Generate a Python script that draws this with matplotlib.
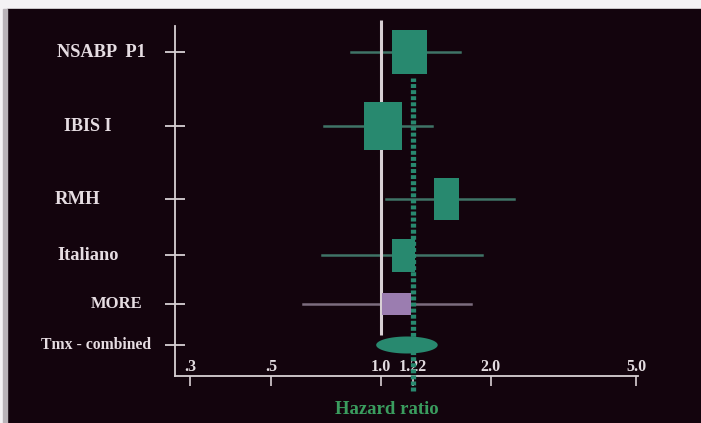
import matplotlib.pyplot as plt
import numpy as np
from matplotlib.patches import Rectangle

# forest plot data: hazard ratio with 95% CI per trial
studies = ['NSABP  P1', 'IBIS I', 'RMH', 'Italiano', 'MORE', 'Tmx - combined']
hr = [1.20, 1.01, 1.51, 1.15, 1.10]
ci_lo = [0.83, 0.70, 1.03, 0.69, 0.61]
ci_hi = [1.65, 1.38, 2.31, 1.89, 1.76]
pooled_hr = 1.22
pooled_lo = 0.97
pooled_hi = 1.43
xtick_vals = [0.3, 0.5, 1.0, 1.22, 2.0, 5.0]
xtick_text = ['.3', '.5', '1.0', '1.22', '2.0', '5.0']

# layout (row heights, box sizes, label positions)
row_y = [6.48, 5.0, 3.54, 2.42, 1.44, 0.62]
box_w = [0.096, 0.104, 0.068, 0.063, 0.079]   # log10 units
box_h = [0.88, 0.96, 0.84, 0.66, 0.44]
label_px = [57, 64, 55, 57, 91, 41]
label_size = [13.2, 13, 13.5, 13.2, 12, 11.3]

BG = '#13040d'
TEAL = '#28896f'
LINE = '#d8d0d4'
serif = ['Liberation Serif', 'DejaVu Serif']

fig = plt.figure(figsize=(7.01, 4.23), dpi=100)
fig.patch.set_facecolor('#f4f2f4')
fig.patches.append(Rectangle((7 / 701, 0), 1, (423 - 9) / 423,
                             transform=fig.transFigure, color=BG, zorder=-10))
fig.patches.append(Rectangle((3 / 701, 0), 4 / 701, (423 - 9) / 423,
                             transform=fig.transFigure, color='#b9b3b8', zorder=-10))

ax = fig.add_axes([175 / 701, 47 / 423, 463 / 701, 356 / 423])
ax.set_facecolor('none')
ax.set_xscale('log')
ax.set_xlim(0.2726, 5.06)
ax.set_ylim(0, 7.12)

# reference line at HR = 1
ax.plot([1, 1], [0.82, 7.12], color=LINE, lw=2.2, solid_capstyle='butt', zorder=2)
# dotted pooled estimate
ax.plot([pooled_hr, pooled_hr], [-0.3, 5.96], color=TEAL, lw=3.8,
        linestyle=(0, (0.75, 0.4)), clip_on=False, zorder=3)

for i in range(len(hr)):
    y = row_y[i]
    is_more = studies[i] == 'MORE'
    wcol = '#7c6c7e' if is_more else '#3f7467'
    fcol = '#9b7db0' if is_more else TEAL
    ax.plot([ci_lo[i], ci_hi[i]], [y, y], color=wcol, lw=1.8, zorder=1)
    left = hr[i] * 10 ** (-box_w[i] / 2)
    right = hr[i] * 10 ** (box_w[i] / 2)
    ax.add_patch(Rectangle((left, y - box_h[i] / 2), right - left, box_h[i],
                           facecolor=fcol, edgecolor='none', zorder=4))

# pooled ellipse, drawn in log space
t = np.linspace(0, 2 * np.pi, 200)
c = 0.5 * (np.log10(pooled_lo) + np.log10(pooled_hi))
a = 0.5 * (np.log10(pooled_hi) - np.log10(pooled_lo))
ax.fill(10 ** (c + a * np.cos(t)), row_y[-1] + 0.17 * np.sin(t),
        color=TEAL, lw=0, zorder=4)

for s in ['top', 'right']:
    ax.spines[s].set_visible(False)
for s in ['left', 'bottom']:
    ax.spines[s].set_color(LINE)
    ax.spines[s].set_linewidth(1.3)
ax.spines['left'].set_bounds(0, 7.0)

ax.set_xticks(xtick_vals)
ax.set_xticklabels(xtick_text)
ax.xaxis.set_minor_locator(plt.NullLocator())
ax.tick_params(axis='x', direction='out', length=7, width=1.2, color=LINE,
               pad=-19, labelcolor='#e4dde1', labelsize=11.5)
for lab in ax.get_xticklabels():
    lab.set_fontfamily(serif)
    lab.set_fontweight('bold')

ax.set_yticks(row_y)
ax.set_yticklabels([])
ax.tick_params(axis='y', direction='inout', length=14, width=1.3, color=LINE)

for i, name in enumerate(studies):
    ax.annotate(name, xy=(label_px[i], row_y[i]), xycoords=('figure pixels', 'data'),
                ha='left', va='center', color='#e6dde2', fontsize=label_size[i],
                fontweight='bold', family=serif)

ax.set_xlabel('Hazard ratio', color='#3a9c5e', fontsize=13.5, fontweight='bold',
              family=serif, va='center')
ax.xaxis.set_label_coords(0.458, -0.095)

fig.savefig('out.png', dpi=100, facecolor=fig.get_facecolor())
